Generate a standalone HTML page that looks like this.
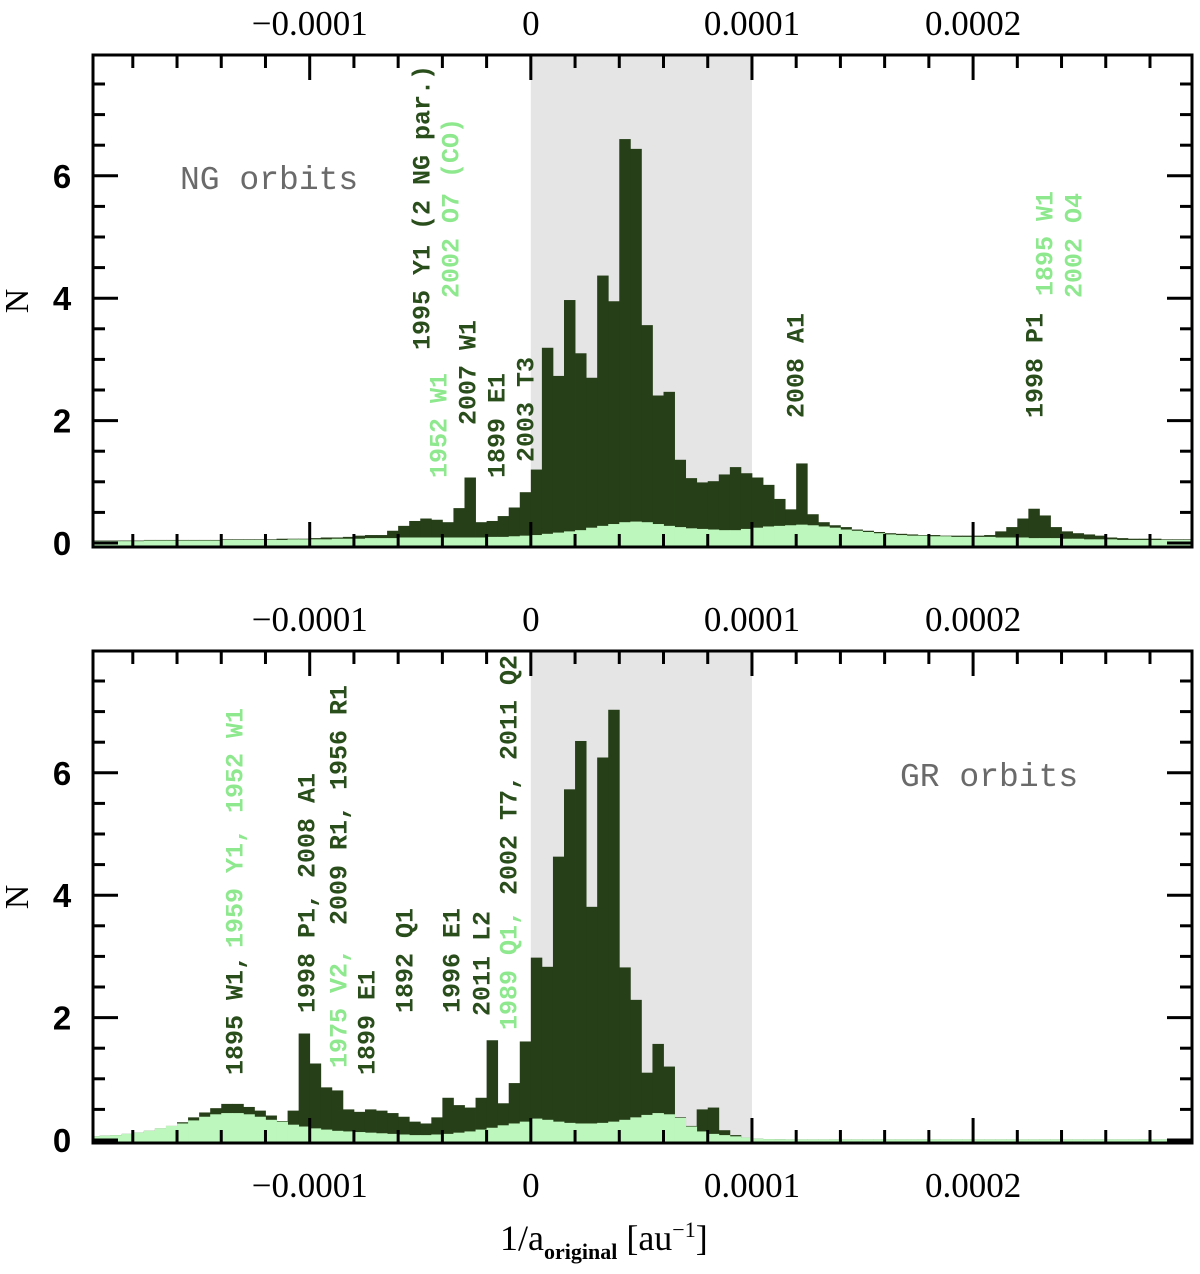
<!DOCTYPE html>
<html><head><meta charset="utf-8"><style>
html,body{margin:0;padding:0;background:#fff;}
svg{display:block;}
</style></head><body>
<svg id="chart" width="1200" height="1274" viewBox="0 0 1200 1274" xmlns="http://www.w3.org/2000/svg"></svg>
<script>
// bins of 5e-6 au^-1, bin index -40 .. 59 (left edge = index*5e-6)
const binStart = -40;
const binWidth = 5e-6;
const ngTotal = [0.04,0.04,0.04,0.04,0.04,0.05,0.05,0.05,0.05,0.05,0.05,0.05,0.06,0.06,0.06,0.06,0.06,0.07,0.07,0.07,0.08,0.09,0.09,0.10,0.12,0.13,
 0.13,0.20,0.28,0.36,0.40,0.38,0.34,0.57,1.07,0.34,0.36,0.44,0.58,0.83,
 1.20,3.19,2.73,3.97,3.10,2.70,4.37,3.95,6.60,6.44,3.56,2.41,2.47,1.36,1.06,0.99,1.01,1.12,1.24,1.14,1.07,0.95,0.72,0.55,1.30,0.47,
 0.34,0.29,0.26,0.22,0.20,0.18,0.16,0.15,0.14,0.13,0.13,0.12,0.12,0.12,0.12,0.13,0.19,0.26,0.40,0.56,0.45,0.26,0.19,0.16,0.14,0.12,0.09,0.08,0.07,0.07,0.07,0.06,0.06,0.06];
const ngLight = [0.03,0.03,0.03,0.03,0.03,0.04,0.04,0.04,0.04,0.04,0.04,0.04,0.05,0.05,0.05,0.05,0.05,0.05,0.06,0.06,0.06,0.06,0.07,0.07,0.07,0.08,
 0.08,0.08,0.09,0.09,0.09,0.09,0.09,0.09,0.09,0.09,0.10,0.10,0.11,0.12,
 0.13,0.15,0.17,0.19,0.21,0.25,0.28,0.31,0.34,0.35,0.34,0.31,0.28,0.26,0.24,0.23,0.22,0.21,0.21,0.23,0.25,0.27,0.28,0.29,0.30,0.29,
 0.27,0.25,0.22,0.20,0.18,0.16,0.14,0.13,0.12,0.12,0.11,0.11,0.10,0.10,0.10,0.10,0.09,0.09,0.09,0.08,0.08,0.08,0.07,0.07,0.06,0.06,0.06,0.05,0.05,0.05,0.05,0.05,0.05,0.05];
const grTotal = [0.06,0.07,0.08,0.10,0.12,0.15,0.19,0.23,0.29,0.37,0.45,0.52,0.59,0.59,0.54,0.48,0.40,0.31,
 0.48,1.74,1.25,0.86,0.81,0.50,0.46,0.50,0.48,0.44,0.38,0.30,0.27,0.37,0.69,0.57,0.53,0.69,1.63,0.60,0.93,1.61,
 2.98,2.83,4.63,5.73,6.52,3.81,6.25,7.03,2.82,2.29,1.10,1.57,1.20,0.37,0.23,0.50,0.53,0.16,0.08,0.04,0.02,
 0.015,0.012,0.01,0.01,0.01,0.01,0.01,0.01,0.01,0.01,0.01,0.01,0.01,0.01,0.01,0.01,0.01,0.01,0.01,0.01,0.01,0.01,0.01,0.01,0.01,0.01,0.01,0.01,0.01,0.01,0.01,0.01,0.01,0.01,0.01,0.01,0.01,0.01,0.01];
const grLight = [0.06,0.07,0.08,0.10,0.12,0.15,0.19,0.23,0.27,0.32,0.38,0.42,0.44,0.44,0.42,0.38,0.33,0.30,
 0.25,0.22,0.19,0.17,0.15,0.14,0.13,0.12,0.11,0.10,0.09,0.08,0.08,0.09,0.10,0.12,0.14,0.17,0.20,0.24,0.27,0.30,
 0.35,0.33,0.30,0.28,0.27,0.27,0.28,0.30,0.33,0.37,0.41,0.44,0.42,0.36,0.22,0.14,0.10,0.08,0.06,0.04,0.02,
 0.015,0.012,0.01,0.01,0.01,0.01,0.01,0.01,0.01,0.01,0.01,0.01,0.01,0.01,0.01,0.01,0.01,0.01,0.01,0.01,0.01,0.01,0.01,0.01,0.01,0.01,0.01,0.01,0.01,0.01,0.01,0.01,0.01,0.01,0.01,0.01,0.01,0.01,0.01];
const xTickValues = [-0.0001, 0, 0.0001, 0.0002];
const xTickLabels = ["\u22120.0001", "0", "0.0001", "0.0002"];
const yTickValues = [0, 2, 4, 6];
const yTickLabels = ["0", "2", "4", "6"];

const NS = "http://www.w3.org/2000/svg";
const svg = document.getElementById('chart');
const L = 93, R = 1192;
const xMin = -1.98e-4, xMax = 2.99e-4;
function X(v){ return L + (v - xMin) / (xMax - xMin) * (R - L); }
function mk(tag, attrs, parent){ const e = document.createElementNS(NS, tag); for (const k in attrs) e.setAttribute(k, attrs[k]); (parent||svg).appendChild(e); return e; }

const DARK = '#263f18', LIGHT = '#bdf7bd', LABDARK = '#2a4d1c', LABLIGHT = '#8ee88e';

function panel(name, top, bottom, zeroY, total, light, labels, title, titleX, titleY){
  const g = mk('g', {});
  
  
  const unit = 61.2;
  function Y(v){ return zeroY - v * unit; }
  const sh = mk('rect', {x: X(0), y: top, width: X(0.0001) - X(0), height: bottom - top, fill: '#e5e5e5'}, g);
  
  
  const bins = mk('g', {}, g);
  
  
  total.forEach((v, i) => {
    const x0 = X((binStart + i) * binWidth), x1 = X((binStart + i + 1) * binWidth);
    const r = mk('rect', {x: Math.max(x0, L), y: Y(v), width: Math.min(x1, R) - Math.max(x0, L) + 0.4, height: bottom - Y(v), fill: DARK}, bins);
    
    
  });
  const lb = mk('g', {}, g);
  
  
  light.forEach((v, i) => {
    const x0 = X((binStart + i) * binWidth), x1 = X((binStart + i + 1) * binWidth);
    const r = mk('rect', {x: Math.max(x0, L), y: Y(v), width: Math.min(x1, R) - Math.max(x0, L) + 0.4, height: bottom - Y(v), fill: LIGHT}, lb);
    
    
  });
  const tk = mk('g', {stroke: '#000', 'stroke-width': 3}, g);
  
  
  for (let k = -9; k <= 14; k++) {
    const v = k * 2e-5; const x = X(v);
    if (x <= L + 2 || x >= R - 2) continue;
    const len = (k % 5 === 0) ? 25 : 13;
    mk('line', {x1: x, y1: bottom, x2: x, y2: bottom - len}, tk);
    mk('line', {x1: x, y1: top, x2: x, y2: top + len}, tk);
  }
  for (let k = 0; k <= 15; k++) {
    const v = k * 0.5; const y = Y(v);
    if (y <= top + 2) continue;
    const len = (k % 4 === 0) ? 25 : 12;
    mk('line', {x1: L, y1: y, x2: L + len, y2: y}, tk);
    mk('line', {x1: R, y1: y, x2: R - len, y2: y}, tk);
  }
  const fr = mk('rect', {x: L, y: top, width: R - L, height: bottom - top, fill: 'none', stroke: '#000', 'stroke-width': 3}, g);
  
  
  yTickValues.forEach((v, i) => {
    const t = mk('text', {x: 62, y: Y(v) + 12, 'text-anchor': 'middle', 'font-family': 'Liberation Sans, sans-serif', 'font-size': 33, 'font-weight': 'bold'}, g);
    t.textContent = yTickLabels[i];
    
    
  });
  const yt = mk('text', {x: 0, y: 0, transform: `translate(28,${(top+bottom)/2}) rotate(-90)`, 'text-anchor': 'middle', 'font-family': 'Liberation Serif, serif', 'font-size': 34}, g);
  yt.textContent = 'N';
  
  
  xTickValues.forEach((v, i) => {
    const t = mk('text', {x: X(v), y: top - 20, 'text-anchor': 'middle', 'font-family': 'Liberation Serif, serif', 'font-size': 35}, g);
    t.textContent = xTickLabels[i];
    
    
  });
  const tt = mk('text', {x: titleX, y: titleY, 'font-family': 'Liberation Mono, monospace', 'font-size': 33, fill: '#6a6a6a'}, g);
  tt.textContent = title;
  
  
  labels.forEach(l => {
    const t = mk('text', {x: 0, y: 0, transform: `translate(${l[1]},${l[2]}) rotate(-90)`, 'font-family': 'Liberation Mono, monospace', 'font-size': 25, 'font-weight': 'bold', 'dominant-baseline': 'central', fill: l[3] ? LABLIGHT : LABDARK}, g);
    t.textContent = l[0];
    
    
  });
}

panel('panel-ng', 55, 547, 543, ngTotal, ngLight, [
  ['1952 W1', 440, 478, true], ['2007 W1', 469, 425, false], ['1899 E1', 498, 478, false], ['2003 T3', 527, 462, false],
  ['1995 Y1 (2 NG par.)', 423, 350, false], ['2002 O7 (CO)', 452, 298, true],
  ['2008 A1', 797, 418, false], ['1998 P1', 1036, 418, false], ['1895 W1', 1046, 296, true], ['2002 O4', 1075, 298, true]
], 'NG orbits', 180, 189);

panel('panel-gr', 651, 1143, 1140, grTotal, grLight, [
  ['1895 W1,', 236, 1075, false], ['1959 Y1, 1952 W1', 236, 948, true],
  ['1998 P1, 2008 A1', 308, 1013, false], ['1975 V2,', 340, 1068, true], ['2009 R1, 1956 R1', 340, 925, false],
  ['1899 E1', 368, 1075, false], ['1892 Q1', 406, 1013, false], ['1996 E1', 453, 1013, false], ['2011 L2', 483, 1016, false],
  ['1989 Q1,', 510, 1030, true], ['2002 T7, 2011 Q2', 510, 895, false]
], 'GR orbits', 900, 786);

xTickValues.forEach((v, i) => {
  const t = mk('text', {x: X(v), y: 1197, 'text-anchor': 'middle', 'font-family': 'Liberation Serif, serif', 'font-size': 35});
  t.textContent = xTickLabels[i];
  
  
});
const xt = mk('text', {x: 500, y: 1250, 'font-family': 'Liberation Serif, serif', 'font-size': 36});


xt.innerHTML = '1/a<tspan dy="9" font-size="22" font-weight="bold">original</tspan><tspan dy="-9"> [au</tspan><tspan dy="-13" font-size="22">\u22121</tspan><tspan dy="13">]</tspan>';
</script>
</body></html>
